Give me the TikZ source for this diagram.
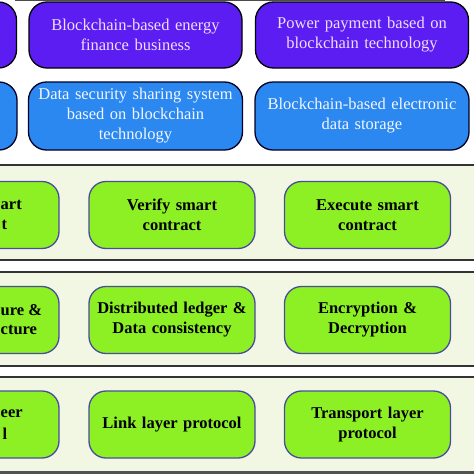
\documentclass[tikz,border=0pt]{standalone}
\usepackage{fontspec}
\setmainfont{Liberation Serif}
\definecolor{purplebox}{HTML}{5B1DF2}
\definecolor{purpletext}{HTML}{F2DDFF}
\definecolor{bluebox}{HTML}{2B88F0}
\definecolor{bluetext}{HTML}{F4F6FF}
\definecolor{greenbox}{HTML}{8CF025}
\definecolor{greenedge}{HTML}{4A4C9A}
\definecolor{bandfill}{HTML}{F1F7E3}
\definecolor{bandline}{HTML}{333333}
\tikzset{
  topbox/.style={draw=black, line width=1.3pt, rounded corners=18pt, fill=purplebox,
    text=purpletext, minimum width=213pt, minimum height=66pt, text width=205pt, align=center,
    font=\fontsize{16.5}{20}\selectfont, inner sep=0pt},
  midbox/.style={draw=black!85!blue, line width=1.3pt, rounded corners=18pt, fill=bluebox,
    text=bluetext, minimum width=214pt, minimum height=68pt, text width=206pt, align=center,
    font=\fontsize{16.5}{20}\selectfont, inner sep=0pt},
  greenbox/.style={draw=greenedge, line width=1.3pt, rounded corners=17pt, fill=greenbox,
    text=black, minimum width=166pt, minimum height=67pt, text width=160pt, align=center,
    font=\bfseries\fontsize{16.5}{20}\selectfont, inner sep=0pt},
  frag/.style={anchor=west, inner sep=0pt, font=\bfseries\fontsize{16.5}{20}\selectfont},
  bandedge/.style={draw=bandline, line width=1.5pt}
}
\begin{document}
\begin{tikzpicture}[x=1pt,y=-1pt]
\useasboundingbox (0,0) rectangle (474,474);
\clip (0,0) rectangle (474,474);
\fill[white] (0,0) rectangle (474,474);
% top strip
\fill[black!70] (15,0) rectangle (445,1.3);
% bands
\fill[bandfill] (0,165) rectangle (474,260);
\fill[bandfill] (0,272) rectangle (474,366);
\fill[bandfill] (0,377) rectangle (474,474);
\coordinate (b1l) at (0,165); \coordinate (b1r) at (474,165);
\coordinate (b2l) at (0,260); \coordinate (b2r) at (474,260);
\coordinate (b3l) at (0,272); \coordinate (b3r) at (474,272);
\coordinate (b4l) at (0,366); \coordinate (b4r) at (474,366);
\coordinate (b5l) at (0,377); \coordinate (b5r) at (474,377);
\draw[bandedge] (b1l) -- (b1r);
\draw[bandedge] (b2l) -- (b2r);
\draw[bandedge] (b3l) -- (b3r);
\draw[bandedge] (b4l) -- (b4r);
\draw[bandedge] (b5l) -- (b5r);
\fill[black!68] (0,471) rectangle (474,474);
% purple row
\node[topbox] (p0) at (-90,35) {};
\node[topbox] (p1) at (135.5,35) {Blockchain-based energy\\finance business};
\node[topbox] (p2) at (362,35) {Power payment based on\\blockchain technology};
% blue row
\node[midbox] (m0) at (-90,116) {};
\node[midbox] (m1) at (135.5,116) {Data security sharing system\\based on blockchain\\technology};
\node[midbox] (m2) at (362,116) {Blockchain-based electronic\\data storage};
% green layer 1
\node[greenbox] (g10) at (-24,215) {};
\node[greenbox] (g11) at (172,215) {Verify smart\\contract};
\node[greenbox] (g12) at (367.5,215) {Execute smart\\contract};
% green layer 2
\node[greenbox] (g20) at (-24,320) {};
\node[greenbox] (g21) at (172,320) {Distributed ledger \&\\Data consistency};
\node[greenbox] (g22) at (367.5,320) {Encryption \&\\Decryption};
% green layer 3
\node[greenbox] (g30) at (-24,424.5) {};
\node[greenbox] (g31) at (172,424.5) {Link layer protocol};
\node[greenbox] (g32) at (367.5,424.5) {Transport layer\\protocol};
% cut-off fragments on the left
\node[frag] (f1) at (0.5,205) {art};
\node[frag] (f2) at (1.5,225) {t};
\node[frag] (f3) at (0.5,310) {ure \&};
\node[frag] (f4) at (0.5,330) {cture};
\node[frag] (f5) at (0.5,414) {eer};
\node[frag] (f6) at (2.5,434) {l};
\end{tikzpicture}
\end{document}
